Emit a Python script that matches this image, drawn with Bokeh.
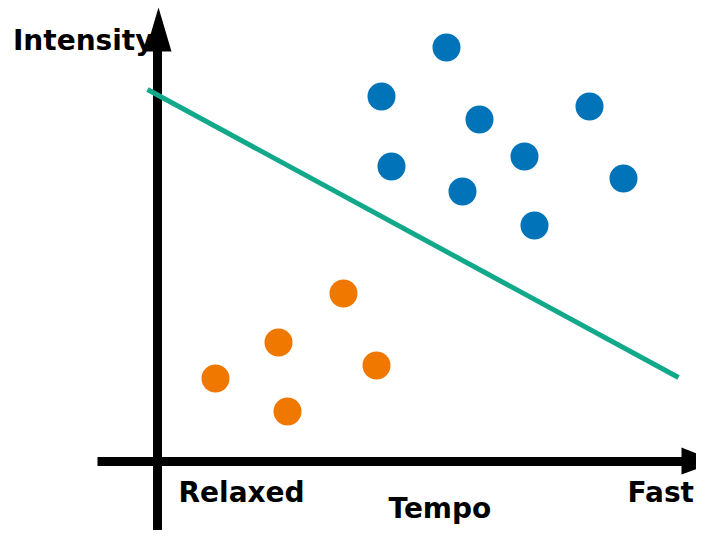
from bokeh.plotting import figure
from bokeh.models import Range1d
from bokeh.core.properties import value
from bokeh.embed import file_html
from bokeh.resources import INLINE

# Data (units: origin at the axes' crossing)
fast_x = [289, 224, 322, 432, 234, 367, 305, 466, 377]
fast_y = [414, 365, 342, 355, 295, 305, 270, 283, 236]
relaxed_x = [186, 121, 58, 219, 130]
relaxed_y = [168, 119, 83, 96, 50]
boundary_x = [-10, 521]
boundary_y = [372, 84]

x_labels = ["Relaxed", "Tempo", "Fast"]
x_label_x = [21, 231, 470]
x_label_y = [-31, -47, -31]
y_label = ["Intensity"]
y_label_x = [-4]
y_label_y = [421]

BLUE = "#0173B8"
ORANGE = "#F07800"
GREEN = "#12A88A"

p = figure(width=696, height=530, output_backend="svg", toolbar_location=None,
           x_range=Range1d(-157, 539), y_range=Range1d(-69, 461),
           min_border=0, outline_line_color=None, background_fill_color="white",
           border_fill_color="white")
p.axis.visible = False
p.grid.visible = False

# axes drawn as arrows
p.segment(x0=[0, -60], y0=[-90, 0], x1=[0, 526], y1=[412, 0], line_color="black", line_width=9)
p.patch(x=[-12, 14, 1], y=[410, 410, 454], color="black", line_width=0)
p.patch(x=[524, 524, 560], y=[14, -13, 0], color="black", line_width=0)

# decision boundary
p.line(boundary_x, boundary_y, line_color=GREEN, line_width=5)

p.scatter(fast_x, fast_y, size=28, fill_color=BLUE, line_color=None)
p.scatter(relaxed_x, relaxed_y, size=28, fill_color=ORANGE, line_color=None)

p.text(x=x_label_x, y=x_label_y, text=x_labels, text_font=value("DejaVu Sans"),
       text_font_style="bold", text_font_size="28px", text_color="black",
       text_align="left", text_baseline="middle")
p.text(x=y_label_x, y=y_label_y, text=y_label, text_font=value("DejaVu Sans"),
       text_font_style="bold", text_font_size="28px", text_color="black",
       text_align="right", text_baseline="middle")

open("out.html", "w").write(file_html(p, INLINE))
